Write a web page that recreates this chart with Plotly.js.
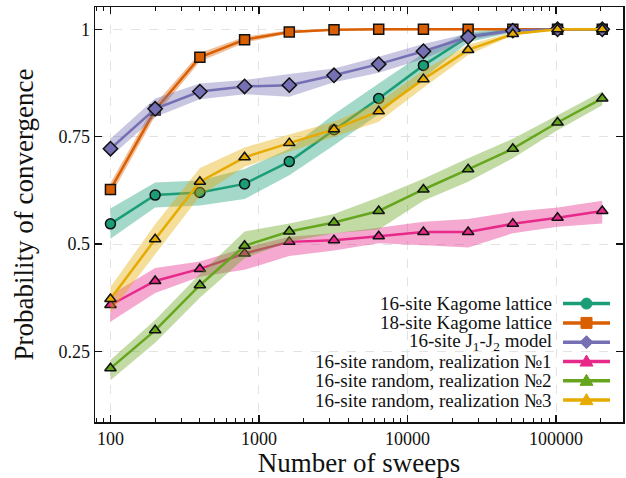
<!DOCTYPE html>
<html>
<head>
<meta charset="utf-8">
<script src="https://cdn.plot.ly/plotly-3.0.1.min.js"></script>
<style>html,body{margin:0;padding:0;background:#fff;}#chart{width:626px;height:478px;}</style>
</head>
<body>
<div id="chart"></div>
<script>
// ---- data ----
const sweeps = [100, 200, 400, 800, 1600, 3200, 6400, 12800, 25600, 51200, 102400, 204800];

const seriesNames = [
  "16-site Kagome lattice",
  "18-site Kagome lattice",
  "16-site J<sub>1</sub>-J<sub>2</sub> model",
  "16-site random, realization №1",
  "16-site random, realization №2",
  "16-site random, realization №3"
];

const kagome16 = [0.547, 0.614, 0.620, 0.640, 0.692, 0.766, 0.839, 0.916, 0.983, 0.998, 1.0, 1.0];
const kagome16Lo = [0.512, 0.585, 0.590, 0.605, 0.660, 0.730, 0.802, 0.886, 0.970, 0.993, 0.998, 0.998];
const kagome16Hi = [0.583, 0.643, 0.648, 0.675, 0.722, 0.802, 0.874, 0.944, 0.994, 1.002, 1.002, 1.002];

const kagome18 = [0.627, 0.812, 0.935, 0.976, 0.994, 0.999, 1.0, 1.0, 1.0, 1.0, 1.0, 1.0];
const kagome18Lo = [0.612, 0.798, 0.925, 0.969, 0.990, 0.997, 0.998, 0.998, 0.998, 0.998, 0.998, 0.998];
const kagome18Hi = [0.642, 0.826, 0.945, 0.983, 0.998, 1.001, 1.002, 1.002, 1.002, 1.002, 1.002, 1.002];

const j1j2 = [0.722, 0.815, 0.855, 0.867, 0.870, 0.893, 0.919, 0.949, 0.982, 0.997, 1.0, 1.0];
const j1j2Lo = [0.703, 0.796, 0.837, 0.849, 0.843, 0.877, 0.899, 0.931, 0.975, 0.994, 0.998, 0.998];
const j1j2Hi = [0.745, 0.839, 0.874, 0.882, 0.896, 0.909, 0.936, 0.966, 0.990, 1.0, 1.002, 1.002];

const random1 = [0.358, 0.414, 0.442, 0.478, 0.505, 0.509, 0.518, 0.528, 0.528, 0.547, 0.561, 0.577];
const random1Lo = [0.319, 0.386, 0.424, 0.440, 0.472, 0.485, 0.502, 0.497, 0.492, 0.525, 0.540, 0.548];
const random1Hi = [0.381, 0.444, 0.459, 0.491, 0.517, 0.525, 0.538, 0.552, 0.558, 0.575, 0.585, 0.601];

const random2 = [0.2105, 0.299, 0.404, 0.496, 0.529, 0.550, 0.577, 0.627, 0.674, 0.722, 0.783, 0.839];
const random2Lo = [0.183, 0.270, 0.375, 0.467, 0.505, 0.525, 0.534, 0.601, 0.645, 0.700, 0.765, 0.823];
const random2Hi = [0.230, 0.323, 0.430, 0.529, 0.548, 0.570, 0.609, 0.652, 0.700, 0.745, 0.800, 0.855];

const random3 = [0.372, 0.511, 0.645, 0.702, 0.735, 0.767, 0.809, 0.884, 0.952, 0.989, 1.0, 1.0];
const random3Lo = [0.340, 0.476, 0.612, 0.680, 0.715, 0.750, 0.785, 0.864, 0.940, 0.986, 0.998, 0.998];
const random3Hi = [0.400, 0.546, 0.677, 0.725, 0.755, 0.785, 0.830, 0.904, 0.964, 0.993, 1.002, 1.002];

const xTickVals = [100, 1000, 10000, 100000];
const xTickText = ["100", "1000", "10000", "100000"];
const yTickVals = [0.25, 0.5, 0.75, 1];
const yTickText = ["0.25", "0.5", "0.75", "1"];

// ---- styles ----
const colors = ["#1b9e77", "#d95f02", "#7570b3", "#e7298a", "#66a61e", "#e6ab02"];
const symbols = ["circle", "square", "diamond", "triangle-up", "triangle-up", "triangle-up"];
const FONT = "Liberation Serif";

function rgba(hex, a) {
  const n = parseInt(hex.slice(1), 16);
  return `rgba(${(n >> 16) & 255},${(n >> 8) & 255},${n & 255},${a})`;
}

const all = [
  [kagome16, kagome16Lo, kagome16Hi],
  [kagome18, kagome18Lo, kagome18Hi],
  [j1j2, j1j2Lo, j1j2Hi],
  [random1, random1Lo, random1Hi],
  [random2, random2Lo, random2Hi],
  [random3, random3Lo, random3Hi]
];

const traces = [];
all.forEach((s, i) => {
  const [v, lo, hi] = s;
  traces.push({
    x: sweeps.concat(sweeps.slice().reverse()),
    y: hi.concat(lo.slice().reverse()),
    type: "scatter", mode: "lines", fill: "toself",
    fillcolor: rgba(colors[i], 0.4), line: {width: 0, color: "rgba(0,0,0,0)"},
    hoverinfo: "skip", showlegend: false
  });
  traces.push({
    x: sweeps, y: v, type: "scatter", mode: "lines+markers",
    name: seriesNames[i], showlegend: false,
    line: {color: colors[i], width: 2.5},
    marker: {symbol: symbols[i], size: symbols[i] === "diamond" ? 11 : 10, color: colors[i],
             line: {color: "#111", width: 1.5}}
  });
});

// ---- custom legend (symbol to the right of text) ----
const M = {l: 95, r: 3, t: 7, b: 56};
const W = 626, H = 478;
const pw = W - M.l - M.r, ph = H - M.t - M.b;
const px2x = p => (p - M.l) / pw;
const py2y = p => (H - M.b - p) / ph;

const annotations = [];
const shapes = [];
const rowY = [303.6, 322.9, 342.2, 361.5, 380.8, 400.1];
const textRight = 553, symL = 563, symR = 610, symC = 586.5;
seriesNames.forEach((nm, i) => {
  annotations.push({
    xref: "paper", yref: "paper", x: px2x(textRight), y: py2y(rowY[i]),
    xanchor: "right", yanchor: "middle", showarrow: false, text: nm,
    font: {family: FONT, size: 19, color: "#111"}, borderpad: 0
  });
  shapes.push({
    type: "line", xref: "paper", yref: "paper",
    x0: px2x(symL), x1: px2x(symR), y0: py2y(rowY[i]), y1: py2y(rowY[i]),
    line: {color: colors[i], width: 3.5}
  });
  const cy = rowY[i], cx = symC, r = 5.5;
  let path;
  if (symbols[i] === "circle") {
    shapes.push({type: "circle", xref: "paper", yref: "paper",
      x0: px2x(cx - r), x1: px2x(cx + r), y0: py2y(cy + r), y1: py2y(cy - r),
      fillcolor: colors[i], line: {color: colors[i], width: 1}});
    return;
  } else if (symbols[i] === "square") {
    path = [[cx - r, cy - r], [cx + r, cy - r], [cx + r, cy + r], [cx - r, cy + r]];
  } else if (symbols[i] === "diamond") {
    const d = 6.5;
    path = [[cx, cy - d], [cx + d, cy], [cx, cy + d], [cx - d, cy]];
  } else {
    const d = 6.5;
    path = [[cx, cy - d], [cx + d, cy + d * 0.7], [cx - d, cy + d * 0.7]];
  }
  const pstr = "M" + path.map(p => px2x(p[0]).toFixed(5) + "," + py2y(p[1]).toFixed(5)).join("L") + "Z";
  shapes.push({type: "path", xref: "paper", yref: "paper", path: pstr,
    fillcolor: colors[i], line: {color: colors[i], width: 1}});
});

const axisCommon = {
  showline: true, linecolor: "#111", linewidth: 1.5, mirror: "ticks",
  ticks: "inside", ticklen: 7, tickwidth: 1.2, tickcolor: "#111",
  showgrid: true, gridcolor: "#e3e3e3", griddash: "dash", gridwidth: 1,
  zeroline: false, tickfont: {family: FONT, size: 18, color: "#111"}
};

const layout = {
  width: W, height: H, margin: M,
  paper_bgcolor: "#fff", plot_bgcolor: "#fff",
  showlegend: false,
  font: {family: FONT, color: "#111"},
  xaxis: Object.assign({}, axisCommon, {
    type: "log", range: [Math.log10(78.7), Math.log10(282500)],
    tickmode: "array", tickvals: xTickVals, ticktext: xTickText,
    minor: {ticks: "inside", ticklen: 4, tickcolor: "#111", tickwidth: 1, dtick: "D1", showgrid: false},
    title: {text: "Number of sweeps", font: {family: FONT, size: 27, color: "#111"}, standoff: 6}
  }),
  yaxis: Object.assign({}, axisCommon, {
    range: [0.0855, 1.052],
    tickmode: "array", tickvals: yTickVals, ticktext: yTickText,
    title: {text: "Probability of convergence", font: {family: FONT, size: 27, color: "#111"}, standoff: 17}
  }),
  annotations: annotations, shapes: shapes
};

Plotly.newPlot("chart", traces, layout, {displayModeBar: false, staticPlot: true});
</script>
</body>
</html>
